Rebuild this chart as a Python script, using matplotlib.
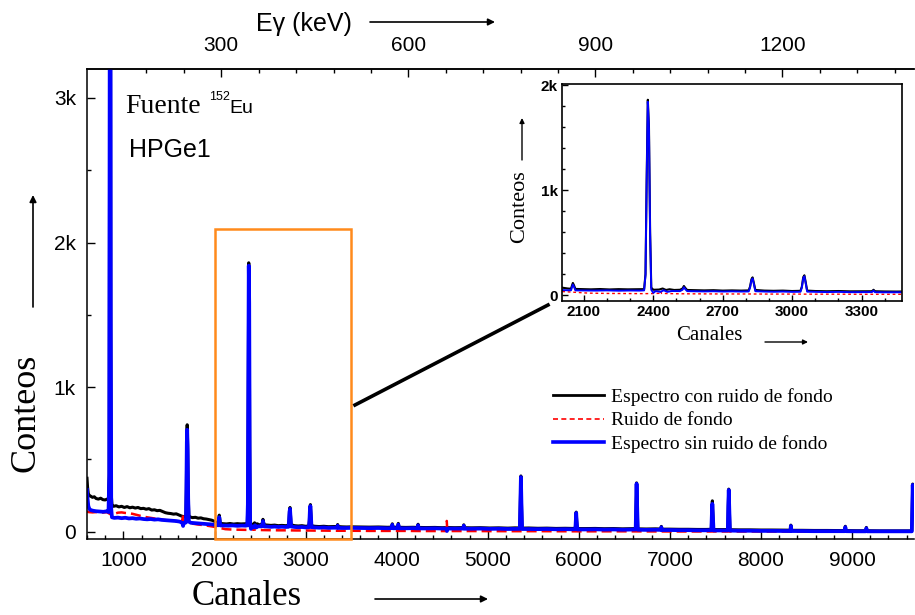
import numpy as np
import matplotlib
matplotlib.use("Agg")
import matplotlib.pyplot as plt
from matplotlib.ticker import MultipleLocator, FuncFormatter
from matplotlib.lines import Line2D
from matplotlib.patches import Rectangle

# spectrum with background (channel, counts)
total = [
    (600, 370), (606, 310), (614, 265), (625, 250), (640, 246), (660, 238), (680, 242), (700, 230),
    (725, 226), (750, 232), (775, 222), (800, 220), (820, 226), (836, 218),
    (844, 400), (848, 2600), (852, 5200), (857, 4800), (861, 1500), (866, 260), (874, 190), (890, 176),
    (920, 180), (950, 172), (980, 176), (1010, 168), (1040, 174), (1070, 166), (1100, 170), (1130, 164),
    (1160, 168), (1190, 160), (1220, 162), (1250, 156), (1280, 160), (1310, 150), (1340, 152), (1370, 146),
    (1400, 148), (1430, 140), (1460, 132), (1490, 128), (1520, 126), (1550, 122), (1580, 124), (1610, 116),
    (1640, 108), (1670, 104), (1686, 108),
    (1691, 300), (1696, 640), (1700, 740), (1705, 600), (1711, 250), (1718, 110), (1730, 102), (1760, 98),
    (1790, 100), (1820, 94), (1850, 96), (1880, 90), (1910, 88), (1940, 84), (1970, 80), (2000, 72),
    (2030, 62), (2044, 60),
    (2048, 90), (2052, 115), (2057, 92), (2063, 58), (2090, 56), (2130, 54), (2170, 57), (2210, 53),
    (2250, 56), (2290, 54), (2330, 55), (2360, 56),
    (2366, 200), (2371, 1100), (2376, 1860), (2381, 1600), (2386, 600), (2391, 70), (2400, 50), (2425, 52),
    (2440, 62), (2455, 48), (2470, 55), (2490, 48), (2515, 50),
    (2526, 62), (2532, 86), (2538, 68), (2546, 48), (2580, 46), (2620, 44), (2660, 46), (2700, 42),
    (2740, 44), (2780, 42), (2812, 44),
    (2818, 80), (2824, 150), (2829, 168), (2834, 120), (2841, 48), (2880, 42), (2920, 40), (2960, 42),
    (3000, 38), (3036, 40),
    (3042, 80), (3048, 170), (3053, 188), (3058, 130), (3065, 42), (3100, 38), (3150, 36), (3200, 38),
    (3250, 35), (3300, 36), (3345, 36), (3352, 50), (3358, 36), (3400, 34), (3450, 33), (3500, 34),
    (3600, 33), (3700, 32), (3800, 33), (3900, 31), (3945, 32), (3952, 55), (3960, 31), (4010, 32),
    (4018, 58), (4026, 31), (4100, 30), (4180, 31), (4228, 30), (4235, 52), (4242, 30), (4320, 29),
    (4420, 30), (4500, 28), (4560, 29), (4640, 28), (4730, 29), (4737, 48), (4745, 28), (4820, 27),
    (4920, 28), (5020, 26), (5120, 27), (5220, 25), (5300, 27), (5352, 26),
    (5358, 200), (5364, 386), (5370, 200), (5377, 25), (5450, 26), (5550, 24), (5650, 25), (5750, 23),
    (5850, 24), (5930, 23), (5962, 24), (5967, 90), (5971, 136), (5976, 80), (5983, 22), (6080, 22),
    (6180, 23), (6280, 21), (6380, 22), (6480, 20), (6570, 21), (6624, 22),
    (6629, 200), (6634, 338), (6640, 180), (6647, 20), (6740, 19), (6840, 20), (6900, 19), (6906, 37),
    (6913, 18), (7000, 18), (7100, 17), (7200, 17), (7300, 16), (7400, 16), (7455, 17),
    (7461, 140), (7466, 214), (7472, 120), (7479, 15), (7560, 15), (7636, 15),
    (7641, 180), (7646, 295), (7652, 160), (7659, 14), (7760, 13), (7880, 13), (8000, 12), (8120, 12),
    (8240, 11), (8322, 11), (8328, 46), (8335, 10), (8450, 10), (8580, 9), (8720, 9), (8860, 8),
    (8920, 8), (8926, 38), (8933, 8), (9050, 7), (9150, 7), (9157, 30), (9164, 7), (9300, 6),
    (9450, 6), (9580, 6), (9656, 6), (9661, 180), (9666, 330), (9672, 200), (9680, 150),
]

# background (channel, counts)
background = [
    (600, 140), (620, 136), (660, 134), (700, 136), (760, 133), (820, 135), (860, 120), (900, 124),
    (940, 132), (980, 134), (1020, 130), (1060, 128), (1100, 124), (1150, 116), (1200, 108), (1260, 100),
    (1320, 94), (1380, 88), (1440, 82), (1500, 78), (1560, 74), (1620, 70), (1645, 72), (1651, 120),
    (1658, 70), (1700, 62), (1760, 56), (1820, 50), (1880, 46), (1940, 40), (2000, 34), (2060, 26),
    (2120, 18), (2200, 15), (2280, 14), (2360, 13), (2400, 14), (2425, 16), (2430, 38), (2436, 15),
    (2500, 12), (2600, 11), (2700, 10), (2800, 10), (2900, 9), (3000, 9), (3100, 8), (3200, 8),
    (3300, 7), (3400, 7), (3500, 7), (3700, 6), (3900, 6), (4100, 6), (4300, 5), (4544, 5),
    (4550, 75), (4556, 5), (4800, 5), (5200, 4), (5600, 4), (6000, 3), (6500, 3), (7000, 2),
    (7500, 2), (8000, 2), (8500, 1), (9000, 1), (9680, 1),
]

# spectrum without background (channel, counts)
net = [
    (600, 290), (606, 230), (614, 180), (625, 158), (640, 150), (670, 145), (700, 142), (740, 140),
    (780, 138), (820, 142), (836, 136),
    (844, 380), (848, 2500), (852, 5100), (857, 4700), (861, 1400), (866, 160), (874, 100), (900, 96),
    (940, 98), (980, 94), (1020, 97), (1060, 92), (1100, 94), (1140, 90), (1180, 92), (1220, 88),
    (1260, 86), (1300, 88), (1340, 84), (1380, 86), (1420, 82), (1460, 80), (1500, 78), (1540, 76),
    (1580, 74), (1620, 70), (1648, 60), (1655, 40), (1662, 62), (1686, 64),
    (1691, 280), (1696, 620), (1700, 705), (1705, 570), (1711, 230), (1718, 70), (1740, 62), (1780, 60),
    (1820, 58), (1860, 56), (1900, 54), (1940, 52), (1980, 50), (2020, 46), (2044, 45),
    (2048, 75), (2052, 100), (2057, 78), (2063, 44), (2100, 43), (2150, 42), (2200, 44), (2250, 41),
    (2300, 43), (2340, 42), (2360, 44),
    (2366, 190), (2371, 1080), (2376, 1840), (2381, 1580), (2386, 580), (2391, 50), (2400, 20), (2410, 38),
    (2430, 30), (2445, 45), (2460, 30), (2480, 38), (2515, 37),
    (2526, 50), (2532, 74), (2538, 56), (2546, 37), (2580, 36), (2620, 34), (2660, 36), (2700, 33),
    (2740, 35), (2780, 33), (2812, 34),
    (2818, 70), (2824, 140), (2829, 158), (2834, 110), (2841, 36), (2880, 33), (2920, 31), (2960, 33),
    (3000, 30), (3036, 31),
    (3042, 70), (3048, 160), (3053, 178), (3058, 120), (3065, 32), (3100, 30), (3150, 28), (3200, 30),
    (3250, 27), (3300, 28), (3345, 28), (3352, 42), (3358, 27), (3400, 26), (3450, 26), (3500, 27),
    (3600, 26), (3700, 25), (3800, 26), (3900, 24), (3945, 25), (3952, 48), (3960, 24), (4010, 25),
    (4018, 50), (4026, 24), (4100, 24), (4180, 25), (4228, 23), (4235, 45), (4242, 23), (4320, 23),
    (4420, 24), (4500, 22), (4545, 22), (4552, 5), (4560, 22), (4640, 22), (4730, 22), (4737, 42),
    (4745, 21), (4820, 21), (4920, 22), (5020, 20), (5120, 21), (5220, 19), (5300, 20), (5352, 20),
    (5358, 195), (5364, 378), (5370, 195), (5377, 19), (5450, 19), (5550, 18), (5650, 19), (5750, 17),
    (5850, 18), (5930, 17), (5962, 18), (5967, 84), (5971, 130), (5976, 74), (5983, 16), (6080, 16),
    (6180, 17), (6280, 15), (6380, 16), (6480, 14), (6570, 15), (6624, 16),
    (6629, 194), (6634, 332), (6640, 174), (6647, 14), (6740, 13), (6840, 14), (6900, 13), (6906, 31),
    (6913, 12), (7000, 12), (7100, 11), (7200, 11), (7300, 10), (7400, 10), (7455, 11),
    (7461, 125), (7466, 193), (7472, 110), (7479, 9), (7560, 9), (7636, 9),
    (7641, 174), (7646, 289), (7652, 154), (7659, 8), (7760, 7), (7880, 7), (8000, 6), (8120, 6),
    (8240, 5), (8322, 5), (8328, 40), (8335, 5), (8450, 5), (8580, 4), (8720, 4), (8860, 4),
    (8920, 4), (8926, 32), (8933, 4), (9050, 3), (9150, 3), (9157, 24), (9164, 3), (9300, 3),
    (9450, 3), (9580, 3), (9656, 3), (9661, 175), (9666, 324), (9672, 195), (9680, 145),
]

energy_ticks = [300, 600, 900, 1200]
legend_labels = ["Espectro con ruido de fondo", "Ruido de fondo", "Espectro sin ruido de fondo"]

ch_total, cnt_total = np.array(total).T
ch_bg, cnt_bg = np.array(background).T
ch_net, cnt_net = np.array(net).T

# energy calibration (keV per channel)
def ch2e(c):
    return 0.14606 * np.asarray(c) - 2.96

def e2ch(e):
    return (np.asarray(e) + 2.96) / 0.14606

SANS = "Liberation Sans"
SERIF = "Liberation Serif"
plt.rcParams["font.family"] = SANS

W, H = 915, 615
def fx(px):
    return px / W
def fy(py):
    return 1 - py / H

fig = plt.figure(figsize=(9.15, 6.15), dpi=100)
ax = fig.add_axes([fx(87), fy(539), fx(914) - fx(87), fy(69) - fy(539)])

ax.plot(ch_total, cnt_total, color="black", lw=2.2)
ax.plot(ch_bg, cnt_bg, color="red", lw=1.8, ls=(0, (4, 2)))
ax.plot(ch_net, cnt_net, color="blue", lw=2.7)
ax.set_xlim(600, 9680)
ax.set_ylim(-50, 3200)
ax.spines["right"].set_visible(False)
for s in ["left", "bottom", "top"]:
    ax.spines[s].set_linewidth(1.1)
ax.xaxis.set_major_locator(MultipleLocator(1000))
ax.xaxis.set_minor_locator(MultipleLocator(200))
ax.yaxis.set_major_locator(MultipleLocator(1000))
ax.yaxis.set_minor_locator(MultipleLocator(500))
kfmt = FuncFormatter(lambda v, p: "0" if v == 0 else f"{int(round(v / 1000))}k")
ax.yaxis.set_major_formatter(kfmt)
ax.tick_params(which="both", direction="in", top=False, right=False, labelsize=15, width=1)
ax.tick_params(which="major", length=6)
ax.tick_params(which="minor", length=3)
ax.tick_params(axis="x", pad=9)
ax.tick_params(axis="y", pad=8)

sec = ax.secondary_xaxis("top", functions=(ch2e, e2ch))
sec.set_xticks(energy_ticks)
sec.xaxis.set_minor_locator(MultipleLocator(60))
sec.tick_params(which="both", direction="in", labelsize=15, width=1, pad=10)
sec.tick_params(which="major", length=6)
sec.tick_params(which="minor", length=3)
sec.spines["top"].set_linewidth(1.1)

ax.add_patch(Rectangle((2000, -48), 1500, 2140, fill=False, ec="#FF8A1C", lw=1.8,
                       clip_on=False, zorder=5))

handles = [Line2D([], [], color="black", lw=2),
           Line2D([], [], color="red", lw=1.2, ls=(0, (3, 2))),
           Line2D([], [], color="blue", lw=2.6)]
leg = fig.legend(handles, legend_labels, loc="upper left", bbox_to_anchor=(fx(553), fy(388)),
                 frameon=False, prop={"family": SERIF, "size": 14}, handlelength=2.6,
                 handletextpad=0.4, labelspacing=0.3, borderpad=0, borderaxespad=0)

# texts on the main plot
fig.text(fx(125), fy(113), "Fuente", family=SERIF, fontsize=20, va="baseline")
fig.text(fx(209), fy(100), "152", fontsize=9, va="baseline")
fig.text(fx(229), fy(113), "Eu", fontsize=14, va="baseline")
fig.text(fx(129), fy(157), "HPGe1", fontsize=18, va="baseline")

fig.text(fx(256), fy(31), "Eγ (keV)", fontsize=18, va="baseline")
fig.text(fx(192), fy(605), "Canales", family=SERIF, fontsize=25, va="baseline")
fig.text(fx(26), fy(413), "Conteos", family=SERIF, fontsize=26, rotation=90,
         ha="center", va="center")

arrow = dict(arrowstyle="-|>", color="black", lw=1.2, mutation_scale=10, shrinkA=0, shrinkB=0)
ax.annotate("", xy=(fx(495), fy(22)), xytext=(fx(370), fy(22)), xycoords="figure fraction",
            textcoords="figure fraction", arrowprops=arrow)
ax.annotate("", xy=(fx(488), fy(599)), xytext=(fx(375), fy(599)), xycoords="figure fraction",
            textcoords="figure fraction", arrowprops=arrow)
ax.annotate("", xy=(fx(33), fy(195)), xytext=(fx(33), fy(307)), xycoords="figure fraction",
            textcoords="figure fraction", arrowprops=arrow)

fig.add_artist(Line2D([fx(355), fx(548)], [fy(405), fy(305)], transform=fig.transFigure,
                      color="black", lw=2.6))

# inset
axin = fig.add_axes([fx(562), fy(301), fx(902) - fx(562), fy(84) - fy(301)])
axin.plot(ch_total, cnt_total, color="black", lw=1.5)
axin.plot(ch_bg, cnt_bg, color="red", lw=1.0, ls=(0, (2, 2)))
axin.plot(ch_net, cnt_net, color="blue", lw=1.4)
axin.set_xlim(2005, 3475)
axin.set_ylim(-57, 2010)
for s in axin.spines.values():
    s.set_linewidth(1.2)
axin.set_xticks([2100, 2400, 2700, 3000, 3300])
axin.xaxis.set_minor_locator(MultipleLocator(100))
axin.yaxis.set_major_locator(MultipleLocator(1000))
axin.yaxis.set_minor_locator(MultipleLocator(200))
axin.yaxis.set_major_formatter(kfmt)
axin.tick_params(which="both", direction="in", labelsize=11, width=1)
axin.tick_params(which="major", length=4, pad=3)
axin.tick_params(which="minor", length=2.5)
for lab in axin.get_xticklabels() + axin.get_yticklabels():
    lab.set_fontweight("bold")

fig.text(fx(520), fy(207), "Conteos", family=SERIF, fontsize=16, rotation=90,
         ha="center", va="center")
fig.text(fx(676), fy(340), "Canales", family=SERIF, fontsize=15, va="baseline")
ax.annotate("", xy=(fx(522), fy(118)), xytext=(fx(522), fy(160)), xycoords="figure fraction",
            textcoords="figure fraction", arrowprops=dict(arrow, mutation_scale=7, lw=1))
ax.annotate("", xy=(fx(808), fy(342)), xytext=(fx(765), fy(342)), xycoords="figure fraction",
            textcoords="figure fraction", arrowprops=dict(arrow, mutation_scale=7, lw=1))

fig.savefig("out.png", dpi=100)
